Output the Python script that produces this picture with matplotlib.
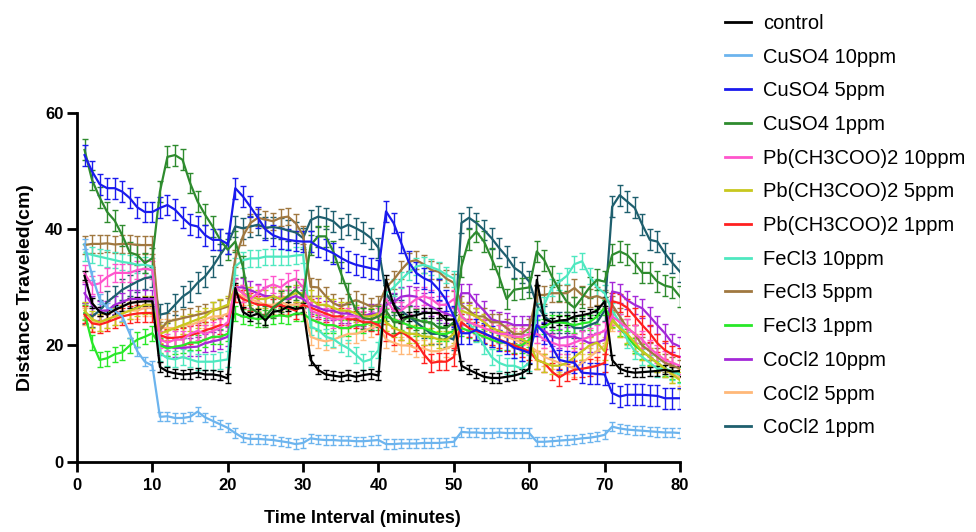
import matplotlib
matplotlib.use("Agg")
import matplotlib.pyplot as plt
from matplotlib.lines import Line2D
import numpy as np

plt.rcParams['font.family'] = ['Liberation Sans', 'DejaVu Sans']

minutes = list(range(1, 81))

labels = ['control', 'CuSO4 10ppm', 'CuSO4 5ppm', 'CuSO4 1ppm',
          'Pb(CH3COO)2 10ppm', 'Pb(CH3COO)2 5ppm', 'Pb(CH3COO)2 1ppm',
          'FeCl3 10ppm', 'FeCl3 5ppm', 'FeCl3 1ppm',
          'CoCl2 10ppm', 'CoCl2 5ppm', 'CoCl2 1ppm']

colors = ['#000000', '#6cb4ee', '#1a1aee', '#2e8b2e',
          '#ff55cc', '#c8c81e', '#ff2020',
          '#4ee8c0', '#a07840', '#28e828',
          '#a428d8', '#ffb878', '#1e5f6e']

control = [32, 27.3, 25.8, 25.3, 26.1, 26.7, 27.3, 27.5, 27.6, 27.6,
           16.3, 15.5, 15.2, 15.0, 15.1, 15.3, 15.0, 15.0, 14.8, 14.3,
           29.9, 25.8, 25.0, 25.5, 24.3, 25.8, 26.0, 26.7, 26.3, 26.5,
           17.5, 15.8, 15.0, 14.8, 14.6, 14.9, 14.6, 14.9, 15.1, 14.8,
           31.3, 27.0, 24.7, 25.0, 25.2, 25.6, 25.6, 25.6, 24.4, 24.5,
           16.5, 15.8, 15.2, 14.6, 14.4, 14.4, 14.6, 14.8, 15.2, 16.0,
           31.3, 24.5, 24.0, 24.3, 24.4, 25.0, 25.2, 25.5, 26.0, 27.6,
           17.5, 16.0, 15.5, 15.3, 15.4, 15.5, 15.6, 15.8, 15.5, 15.6]
cuso4_10 = [37.5, 32, 28, 26.5, 26, 25, 22, 19, 17.2, 16.5,
            7.7, 7.8, 7.5, 7.5, 7.7, 8.6, 7.6, 7.0, 6.4, 5.8,
            4.9, 4.1, 3.9, 3.9, 3.8, 3.7, 3.5, 3.3, 3.0, 3.2,
            4.0, 3.8, 3.7, 3.7, 3.6, 3.6, 3.5, 3.5, 3.6, 3.7,
            3.0, 3.0, 3.1, 3.1, 3.1, 3.2, 3.2, 3.2, 3.3, 3.4,
            5.1, 5.0, 5.0, 4.9, 4.9, 5.0, 4.9, 4.9, 4.9, 4.9,
            3.4, 3.4, 3.5, 3.6, 3.7, 3.8, 4.0, 4.1, 4.3, 4.6,
            6.0, 5.7, 5.5, 5.4, 5.3, 5.2, 5.1, 5.0, 5.0, 4.9]
cuso4_5 = [52.8, 50, 47.8, 47.1, 47.1, 46.5, 45.4, 43.8, 43, 43,
           43.7, 44.2, 43.4, 42, 40.8, 40.5, 39, 38.2, 38.2, 37.5,
           47.1, 45.7, 43.9, 42, 40, 39, 38.5, 38.2, 38, 37.9,
           37.9, 37, 36.5, 35.9, 35.1, 34.4, 33.9, 33.6, 33.3, 33.0,
           43.1, 41.1, 37.7, 34.4, 32.5, 31.6, 31, 29.6, 27.8, 25,
           22.1, 22.1, 22.7, 22.1, 21.5, 20.9, 20.4, 19.6, 19.2, 18.7,
           23.5, 22.1, 19.8, 17.5, 17.2, 17.0, 15.3, 15.2, 15.1, 15.0,
           11.8, 11.2, 11.5, 11.5, 11.5, 11.4, 11.3, 10.9, 10.9, 10.9]
cuso4_1 = [53.7, 48.5, 45.5, 43, 41.5, 39, 36, 35.6, 34.2, 35,
           46.5, 52.5, 52.8, 52, 48, 44.8, 42.5, 40.5, 38.2, 36.5,
           37.9, 33.6, 26.5, 25.6, 25, 26.5, 27.5, 28.5, 29.6, 28.4,
           37.3, 38.8, 38.8, 36.2, 32.5, 29, 26.1, 24.7, 24.5, 25,
           26, 24, 24, 25, 24.5, 24, 24, 23, 23, 24,
           33.6, 38.2, 39.6, 37.9, 35, 31.9, 28, 29.6, 29.8, 30,
           36.2, 34.7, 31.9, 29.5, 27.5, 26.5, 28.2, 30, 31.3, 31,
           35.6, 36.2, 35.6, 34.2, 32.5, 32.5, 31, 30.3, 30, 28.4]
pb_10 = [32.4, 30.4, 30.7, 31.8, 32.5, 32.5, 32.5, 33, 33.2, 33,
         21, 20.5, 21, 21, 22, 22.5, 22, 22.5, 23, 24,
         30, 29, 28, 29, 30, 30.5, 30, 31, 31.5, 30,
         26, 25.5, 25, 24.5, 24.5, 25, 25, 24.5, 24.5, 25,
         28, 26, 26, 27, 28, 28.5, 28, 27, 27, 28,
         25, 24, 23.5, 23, 22.5, 22, 22, 21.5, 21.5, 22,
         22, 21, 20.5, 20, 20, 20.5, 21, 21.5, 22, 22.5,
         25, 24, 23, 22, 21, 19.5, 18.5, 17.5, 17, 16.5]
pb_5 = [26, 24.5, 24, 24.5, 25, 25.5, 26, 26.5, 27, 27,
        22, 22.5, 23, 23.5, 24, 24.5, 25, 26, 26.5, 27,
        30, 29, 28.5, 28, 28, 28.5, 28, 28.5, 29, 29,
        28, 27, 27, 26.5, 26, 26, 25.5, 25, 25, 25.5,
        24, 23, 22.5, 22, 22, 21.5, 21.5, 21, 21, 22,
        26, 25.5, 25, 24, 23, 22.5, 22, 21.5, 21, 20.5,
        17.5, 17, 16.5, 16.5, 17, 18, 19, 20, 20.5, 19,
        24.5, 23, 22, 20.5, 19, 18, 17, 16, 15, 14]
pb_1 = [25.3, 23.8, 23.6, 24, 24.5, 25, 25.3, 25.5, 25.6, 25.6,
        21.8, 21.3, 21.3, 21.5, 21.8, 22.1, 22.6, 23, 23.5, 23.5,
        29, 28, 27.5, 27, 27, 26.5, 27, 26.5, 26, 27,
        26.5, 26, 25.5, 25, 25, 24.5, 24.5, 24, 24, 23.5,
        22.2, 21.5, 22.4, 21.5, 20.5, 18.5, 17, 17.2, 17.2, 18,
        24, 23, 22.5, 22, 21.5, 21, 20.5, 20, 19.5, 19,
        17.5, 17, 15.5, 14.5, 15.3, 15.8, 16, 16.2, 16.5, 17,
        27.6, 27.3, 26.5, 25, 23.5, 22.1, 20.4, 19.2, 18.4, 18]
fecl3_10 = [36, 35.6, 35.3, 35, 34.7, 34.4, 34.2, 33.9, 33.9, 33.6,
            18.7, 17.8, 17.6, 18, 17.6, 17.2, 17.2, 17.2, 17.4, 17.6,
            33.6, 34.7, 35, 35, 35.3, 35.3, 35.3, 35.3, 35.5, 35.6,
            23.2, 22.7, 21.5, 21.1, 20.2, 19.5, 18.4, 17.2, 17.6, 19.2,
            29, 30, 31.3, 32.6, 33.6, 33.9, 33.5, 33, 32.2, 31.5,
            25, 24, 22, 20, 18, 17, 16.5, 16.5, 16, 17,
            26, 27, 30, 31, 32, 34, 34.5, 32, 30, 29,
            26, 24, 21, 19, 18, 17, 16, 16, 15.5, 15]
fecl3_5 = [37.3, 37.5, 37.5, 37.6, 37.4, 37.5, 37.5, 37.3, 37.3, 37.3,
           22.6, 24.1, 24.4, 24.7, 25, 25.3, 25.6, 26, 26.3, 26.7,
           35, 38.8, 41.1, 42, 41.7, 41.4, 42, 42.2, 41.1, 39,
           30.1, 30, 28.5, 27.3, 26.7, 27.3, 27.8, 27.3, 26.7, 27,
           30, 31.3, 33, 34.4, 34.7, 34, 33, 32.7, 31.5, 30.8,
           27, 26, 25, 25, 24, 24, 23, 22, 22, 23,
           28.7, 28.7, 29, 29, 29, 29.9, 28.7, 28.2, 28.5, 28,
           27, 25, 23, 22, 20, 19, 18, 17, 16.5, 16]
fecl3_1 = [25.6, 20.5, 17.5, 17.8, 18.5, 18.8, 20, 21, 21.5, 22.1,
           20, 19.5, 19.8, 20, 20.5, 20.5, 21, 21.5, 21.5, 22,
           25.5, 25, 24.8, 24.5, 24.8, 25, 25.2, 25, 25.5, 25.5,
           24.5, 24, 23.5, 23.5, 23, 23, 23.5, 23.5, 24, 24,
           25, 24.5, 24, 23.5, 23, 23, 22.5, 22, 22, 22.5,
           23, 22.5, 22, 21.5, 21, 20.5, 20.5, 20, 20, 21,
           23, 23.2, 24, 24, 23.8, 23.5, 23.8, 24, 25, 26.5,
           24.5, 23, 21.5, 20, 19, 18, 17, 16, 15.5, 15]
cocl2_10 = [29, 27, 26, 26, 27, 27.5, 28, 28, 28, 28,
            20, 19.8, 19.6, 19.6, 19.7, 19.8, 20.4, 20.7, 21, 21.5,
            30, 30, 29.5, 29, 28.5, 28.5, 28, 28, 28.5, 28,
            27, 26.5, 26, 26, 25.5, 25.5, 25, 25, 25.5, 25.5,
            27, 27.5, 28.4, 28.6, 28.4, 27.5, 26.7, 26, 25.5, 25,
            29, 29, 27.3, 26, 24.5, 24.1, 24, 23.5, 23.5, 23.5,
            23.5, 22.5, 21.5, 21.2, 21.5, 21.5, 21, 20.4, 20.5, 21,
            29.3, 29, 27.8, 27, 26.4, 25, 23.5, 22.1, 20.4, 19.8]
cocl2_5 = [25, 24, 24, 24.5, 25, 25.5, 26, 26, 26.5, 26.5,
           23, 23, 23, 23.5, 23.5, 24, 24.5, 25, 25, 25.5,
           29, 28.5, 28, 27.5, 27, 27, 27.5, 27, 27, 27,
           21.5, 21, 20.7, 21, 21.5, 22, 22, 22.5, 23, 23.5,
           21, 20.5, 20, 20, 19.5, 19.5, 19, 19, 19.5, 20,
           24.5, 24, 23.5, 23, 22.5, 22, 21.5, 21, 20.5, 20,
           19, 18, 17.5, 17, 16.5, 16, 17, 18, 19, 20,
           24, 23, 21.5, 20, 19, 18, 17, 16, 15, 14.5]
cocl2_1 = [25.5, 25, 26, 27.5, 28.5, 29.6, 30.3, 31, 31.6, 31.8,
           25.3, 25.6, 27, 28.4, 29.3, 30.8, 31.9, 33.6, 35.6, 37.5,
           40.5, 40.2, 40.5, 40.8, 40.3, 40.4, 40.2, 39.8, 39.5, 38.5,
           41.6, 42.2, 41.9, 41.4, 40.2, 40.8, 40.2, 39.5, 38.5, 36.8,
           29, 27, 26, 25, 24, 23, 22, 22, 21.5, 21,
           41.1, 42, 41.1, 39.9, 38.5, 36.8, 35.3, 33.4, 32.5, 31,
           27, 25, 24, 24, 24, 23, 23, 23.5, 24, 26,
           43.9, 45.9, 44.8, 43.7, 40.8, 38.2, 37.9, 35.9, 34.2, 32.7]

series = [control, cuso4_10, cuso4_5, cuso4_1, pb_10, pb_5, pb_1,
          fecl3_10, fecl3_5, fecl3_1, cocl2_10, cocl2_5, cocl2_1]
# typical SEM
sem = [0.8, 0.8, 1.8, 1.8, 1.5, 1.5, 1.5, 1.4, 1.5, 1.3, 1.6, 1.5, 1.8]

fig = plt.figure(figsize=(9.76, 5.32), dpi=100)
ax = fig.add_axes([0.0789, 0.1325, 0.6178, 0.6545])

for i in reversed(range(len(series))):
    ax.errorbar(minutes, series[i], yerr=sem[i], color=colors[i], lw=1.6,
                elinewidth=1.0, capsize=2.2, capthick=1.0)

ax.set_xlim(0, 80)
ax.set_ylim(0, 60)
ax.set_xticks(range(0, 81, 10))
ax.set_yticks([0, 20, 40, 60])
for s in ['top', 'right']:
    ax.spines[s].set_visible(False)
for s in ['left', 'bottom']:
    ax.spines[s].set_linewidth(2.0)
ax.tick_params(width=2.0, length=7.2, labelsize=12)
ax.tick_params(axis='x', pad=5)
ax.tick_params(axis='y', pad=2.5)
for t in ax.get_xticklabels() + ax.get_yticklabels():
    t.set_fontweight('bold')
ax.set_xlabel('Time Interval (minutes)', fontsize=13, fontweight='bold')
ax.xaxis.set_label_coords(0.474, -0.14)
ax.set_ylabel('Distance Traveled(cm)', fontsize=14, fontweight='bold', labelpad=8)

handles = [Line2D([], [], color=c, lw=2) for c in colors]
fig.legend(handles, labels, loc='upper left', bbox_to_anchor=(0.743, 0.974),
           frameon=False, fontsize=14.5, handlelength=1.3, handletextpad=0.6,
           labelspacing=0.73, borderpad=0, borderaxespad=0)

fig.savefig('out.png', dpi=100)
